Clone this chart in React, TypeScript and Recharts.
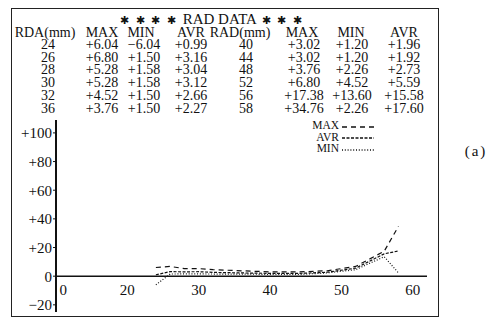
import React from 'react';
import { LineChart, Line, XAxis, YAxis, ReferenceLine } from 'recharts';

// RDA (mm) positions from the table, left block then right block
const rda = [24, 26, 28, 30, 32, 36, 40, 44, 48, 52, 56, 58];
const maxValues = [6.04, 6.8, 5.28, 5.28, 4.52, 3.76, 3.02, 3.02, 3.76, 6.8, 17.38, 34.76];
const minValues = [-6.04, 1.5, 1.58, 1.58, 1.5, 1.5, 1.2, 1.2, 2.26, 4.52, 13.6, 2.26];
const avrValues = [0.99, 3.16, 3.04, 3.12, 2.66, 2.27, 1.96, 1.92, 2.73, 5.59, 15.58, 17.6];

const yTicks = [-20, 0, 20, 40, 60, 80, 100];
// first tick sits at the axis origin and is printed as "0" in the original
const xOriginTick = 11;
const xTicks = [xOriginTick, 20, 30, 40, 50, 60];

const serif = "'Liberation Serif', 'DejaVu Serif', serif";

const series = [
    { key: 'max', name: 'MAX', dash: '5 4' },
    { key: 'avr', name: 'AVR', dash: '3 1.5' },
    { key: 'min', name: 'MIN', dash: '1 1.8' },
];

const data = rda.map((r, i) => ({ rda: r, max: maxValues[i], min: minValues[i], avr: avrValues[i] }));

const fmt = (v: number) => (v < 0 ? `\u2212${Math.abs(v).toFixed(2)}` : `+${v.toFixed(2)}`);

const XTick = (props: any) => {
    const { x, y, payload } = props;
    const label = payload.value === xOriginTick ? '0' : String(payload.value);
    return (
        <text x={x} y={y - 17} textAnchor="middle" fontSize={15} fontFamily={serif} fill="#111">
            {label}
        </text>
    );
};

const LegendBox = () => (
    <div style={{ position: 'absolute', left: 280, top: 120, width: 96, fontFamily: serif, fontSize: 11.5, color: '#111' }}>
        {series.map(s => (
            <div key={s.key} style={{ display: 'flex', alignItems: 'center', justifyContent: 'flex-end', height: 11.5, lineHeight: '11.5px' }}>
                <span>{s.name}</span>
                <svg width={34} height={8} style={{ marginLeft: 3 }}>
                    <line x1={0} y1={5} x2={32} y2={5} stroke="#111" strokeWidth={1.3} strokeDasharray={s.dash} />
                </svg>
            </div>
        ))}
    </div>
);

const cell = (text: string, cx: number, cy: number, key: string) => (
    <div
        key={key}
        style={{
            position: 'absolute',
            left: cx,
            top: cy - 6,
            height: 12,
            lineHeight: '12px',
            transform: 'translateX(-50%)',
            fontSize: 14,
            whiteSpace: 'nowrap',
        }}
    >
        {text}
    </div>
);

const leftCols = [48, 102, 144, 191];
const rightCols = [246, 304, 352, 404];
const rowY = (i: number) => 45 + i * 12.7;

export default function App() {
    const rows: React.ReactNode[] = [];
    ['RDA(mm)', 'MAX', 'MIN', 'AVR'].forEach((h, j) => rows.push(cell(h, [45, 102, 141, 191][j], 32.5, `hl${j}`)));
    ['RAD(mm)', 'MAX', 'MIN', 'AVR'].forEach((h, j) => rows.push(cell(h, [240, 302, 351, 404][j], 32.5, `hr${j}`)));
    for (let i = 0; i < 6; i++) {
        const l = i;
        const r = i + 6;
        rows.push(cell(String(rda[l]), leftCols[0], rowY(i), `l0${i}`));
        rows.push(cell(fmt(maxValues[l]), leftCols[1], rowY(i), `l1${i}`));
        rows.push(cell(fmt(minValues[l]), leftCols[2], rowY(i), `l2${i}`));
        rows.push(cell(fmt(avrValues[l]), leftCols[3], rowY(i), `l3${i}`));
        rows.push(cell(String(rda[r]), rightCols[0], rowY(i), `r0${i}`));
        rows.push(cell(fmt(maxValues[r]), rightCols[1], rowY(i), `r1${i}`));
        rows.push(cell(fmt(minValues[r]), rightCols[2], rowY(i), `r2${i}`));
        rows.push(cell(fmt(avrValues[r]), rightCols[3], rowY(i), `r3${i}`));
    }

    return (
        <div style={{ position: 'absolute', left: 0, top: 0, width: 498, height: 320, background: '#fff', fontFamily: serif, color: '#111' }}>
            <div style={{ position: 'absolute', left: 11, top: 8, width: 426, height: 307, border: '1.5px solid #222' }} />
            <div style={{ position: 'absolute', left: 112, top: 13, width: 200, height: 13, textAlign: 'center', fontSize: 15, lineHeight: '13px', whiteSpace: 'nowrap' }}>
                <span style={{ fontSize: 10.5, letterSpacing: 2 }}>✱ ✱ ✱ ✱ </span>
                RAD DATA
                <span style={{ fontSize: 10.5, letterSpacing: 2 }}> ✱ ✱ ✱</span>
            </div>
            {rows}
            <div style={{ position: 'absolute', left: 450, top: 143, width: 52, textAlign: 'center', fontSize: 15, letterSpacing: 2 }}>(a)</div>
            <div style={{ position: 'absolute', left: 0, top: 0 }}>
                <LineChart width={498} height={320} data={data} margin={{ top: 120, right: 71, bottom: 0, left: 0 }}>
                    <XAxis
                        type="number"
                        dataKey="rda"
                        domain={[10, 62]}
                        ticks={xTicks}
                        allowDataOverflow
                        axisLine={false}
                        tickLine={false}
                        tickSize={0}
                        tickMargin={0}
                        height={8}
                        tick={<XTick />}
                    />
                    <YAxis
                        type="number"
                        domain={[-25, 109]}
                        ticks={yTicks}
                        allowDataOverflow
                        width={56}
                        axisLine={{ stroke: '#111', strokeWidth: 2 }}
                        tickLine={{ stroke: '#111' }}
                        tickSize={3}
                        tickMargin={1}
                        tick={{ fill: '#111', fontSize: 15, fontFamily: serif }}
                        tickFormatter={(v: number) => (v > 0 ? `+${v}` : v < 0 ? `\u2212${-v}` : '0')}
                    />
                    <ReferenceLine y={0} stroke="#111" strokeWidth={1.5} />
                    {series.map(s => (
                        <Line
                            key={s.key}
                            type="linear"
                            dataKey={s.key}
                            name={s.name}
                            stroke="#111"
                            strokeWidth={1.2}
                            strokeDasharray={s.dash}
                            dot={false}
                            isAnimationActive={false}
                        />
                    ))}
                </LineChart>
            </div>
            <LegendBox />
        </div>
    );
}
